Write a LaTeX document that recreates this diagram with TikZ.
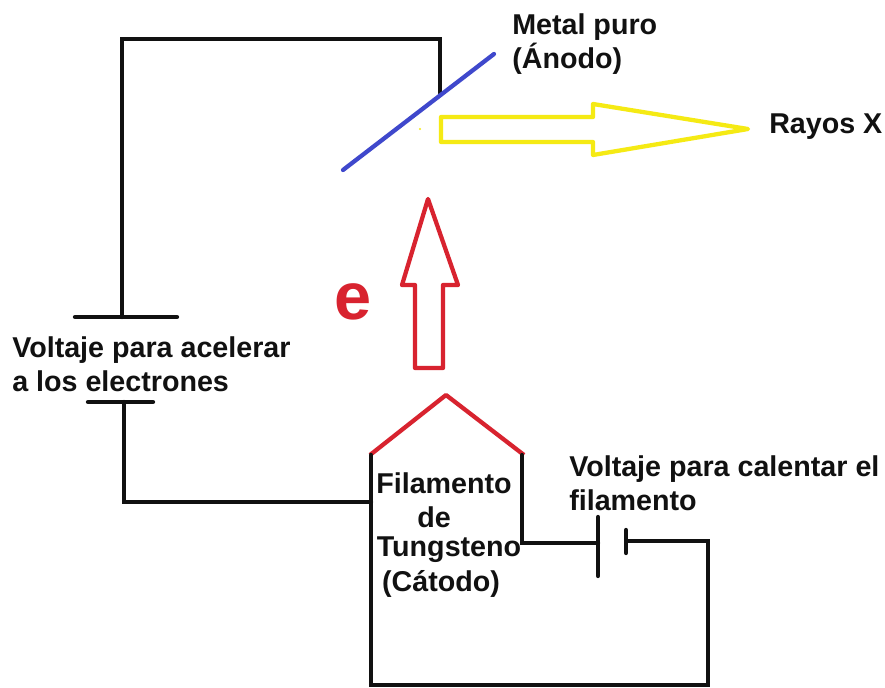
\documentclass[tikz,border=0pt]{standalone}
\usepackage{fontspec}
\setmainfont{Liberation Sans}
\definecolor{wirec}{HTML}{111111}
\definecolor{redc}{HTML}{D8232F}
\definecolor{bluec}{HTML}{3F48CC}
\definecolor{yelc}{HTML}{F5EA14}
\tikzset{
 wire/.style={draw=wirec,line width=3.2pt,line cap=round,line join=miter},
 redl/.style={draw=redc,line width=3.2pt,line join=round},
 yell/.style={draw=yelc,line width=3.2pt,line join=round},
 bluel/.style={draw=bluec,line width=3.2pt,line cap=round},
 lab/.style={font=\bfseries\fontsize{21.5}{25.5}\selectfont,text=wirec,inner sep=0pt,anchor=west,align=left},
 clab/.style={font=\bfseries\fontsize{21.5}{25.5}\selectfont,text=wirec,inner sep=0pt},
}
\begin{document}
\begin{tikzpicture}[x=0.75pt,y=-0.75pt]
\useasboundingbox (0,0) rectangle (885,688);
\fill[white] (0,0) rectangle (885,688);
\coordinate (batL1) at (122,317);
\coordinate (corner1) at (122,39);
\coordinate (corner2) at (440,39);
\coordinate (anodeW) at (440,93);
\coordinate (batL2) at (124,402);
\coordinate (corner3) at (124,502);
\coordinate (catL) at (371,502);
\coordinate (a1) at (343,170);
\coordinate (a2) at (494,54);
\draw[wire] (batL1) -- (corner1) -- (corner2) -- (anodeW);
\draw[wire] (75,317) -- (177,317);
\draw[wire] (88,402) -- (153,402);
\draw[wire] (batL2) -- (corner3) -- (catL);
\draw[bluel] (a1) -- (a2);
\draw[yell] (441,117) -- (593,117) -- (593,104) -- (748,129) -- (593,155) -- (593,142) -- (441,142) -- cycle;
\fill[yelc] (420,129) circle (1.2);
\draw[redl] (415,368) -- (415,285) -- (402,285) -- (428,199) -- (458,285) -- (443,285) -- (443,368) -- cycle;
\node[font=\bfseries\fontsize{50}{50}\selectfont,text=redc,inner sep=0pt] (e) at (353,302) {e};
\draw[redl] (370,455) -- (446,395) -- (524,455);
\draw[wire] (371,455) -- (371,685) -- (708,685) -- (708,541) -- (627,541);
\draw[wire] (522,455) -- (522,543) -- (598,543);
\draw[wire] (598,517) -- (598,576);
\draw[wire] (626,530) -- (626,553);
\node[lab] (l1) at (512,44) {Metal puro\\(Ánodo)};
\node[lab] (l2) at (769,127) {Rayos X};
\node[lab] (l3) at (12,364) {Voltaje para acelerar\\a los electrones};
\node[lab] (l4) at (569,483) {Voltaje para calentar el\\filamento};
\node[clab] (l5) at (444,483) {Filamento};
\node[clab] (l6) at (434,517) {de};
\node[clab] (l7) at (449,550) {Tungsteno};
\node[clab] (l8) at (441,584) {(Cátodo)};
\end{tikzpicture}
\end{document}
